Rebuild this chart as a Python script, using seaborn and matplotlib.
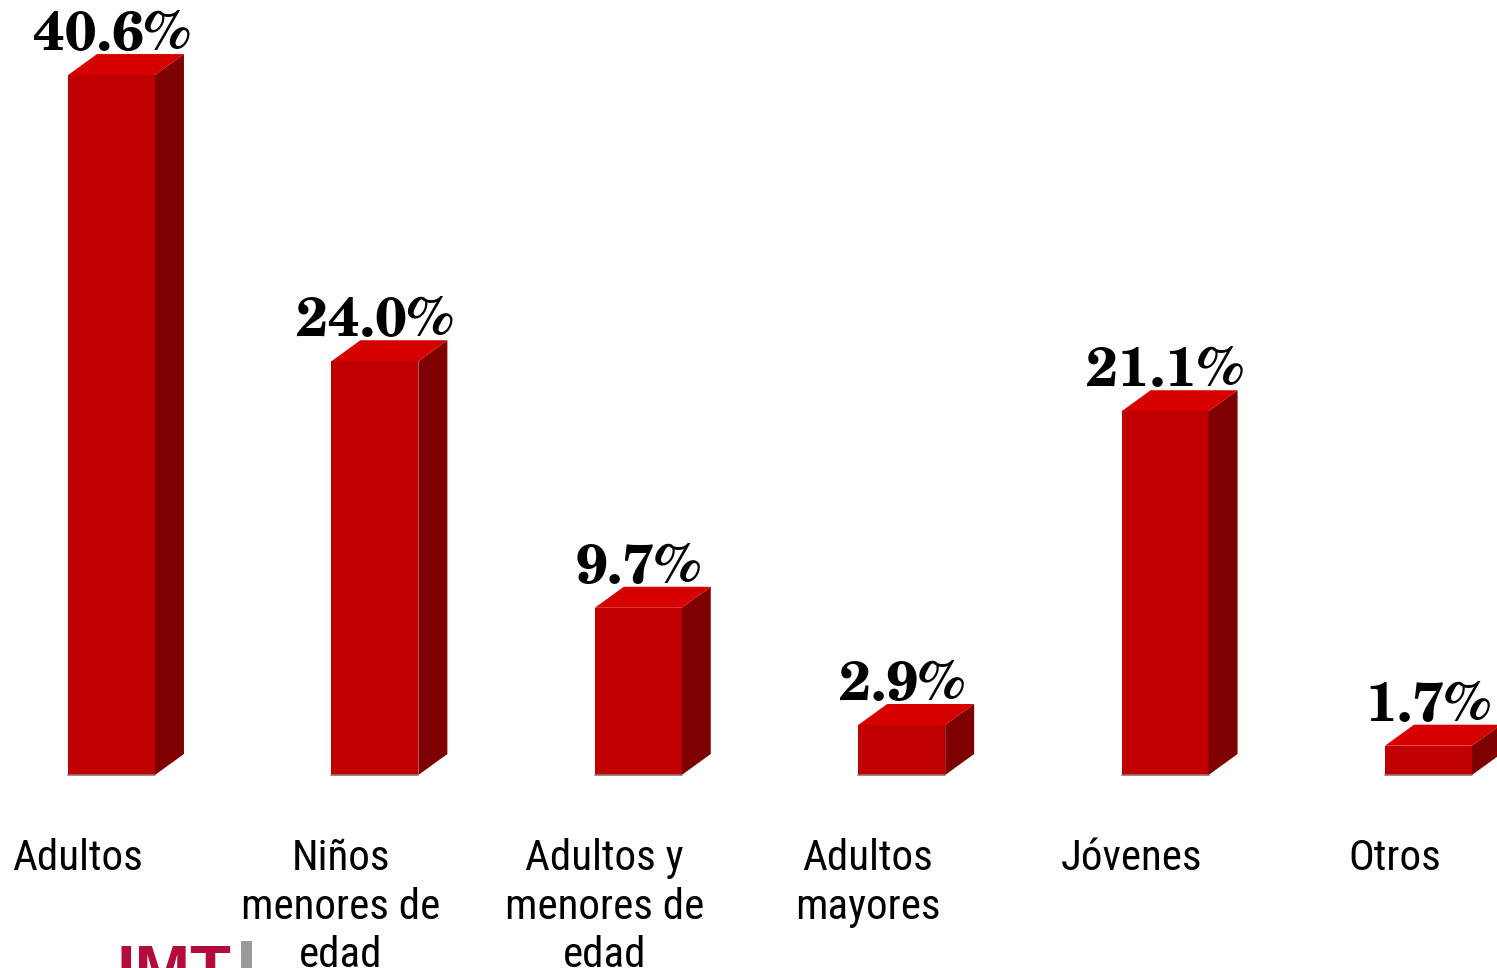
import matplotlib
matplotlib.use("Agg")
import matplotlib.pyplot as plt
from matplotlib.patches import Polygon, Rectangle
from matplotlib.transforms import ScaledTranslation
import seaborn as sns
import pandas as pd

categories = ["Adultos", "Niños\nmenores de\nedad", "Adultos y\nmenores de\nedad",
              "Adultos\nmayores", "Jóvenes", "Otros"]
values = [40.6, 24.0, 9.7, 2.9, 21.1, 1.7]
value_labels = ["40.6%", "24.0%", "9.7%", "2.9%", "21.1%", "1.7%"]

FRONT = "#C00000"
SIDE = "#7E0000"
TOP = "#D60000"

W, H, DPI = 1497, 968, 100
sns.set_theme(style="white")
plt.rcParams["font.family"] = ["Roboto Condensed", "DejaVu Sans"]

fig = plt.figure(figsize=(W / DPI, H / DPI), dpi=DPI)
ax = fig.add_axes([0, 0, 1, 1])

df = pd.DataFrame({"cat": categories, "val": values})
sns.barplot(data=df, x="cat", y="val", color=FRONT, width=0.33,
            saturation=1, ax=ax, zorder=2)

# pixel-based layout of the category axis
step_px = 263.4
x0_px = 111.5
px_per_unit_y = 17.24
base_px = H - 775
ax.set_xlim(-x0_px / step_px, (W - x0_px) / step_px)
ax.set_ylim(-base_px / px_per_unit_y, (H - base_px) / px_per_unit_y)
ax.axis("off")

# depth of the extruded bars, in data units
dx = 29 / step_px
dy = 21 / px_per_unit_y

for patch, lab in zip(ax.patches, value_labels):
    patch.set_edgecolor("none")
    x = patch.get_x()
    w = patch.get_width()
    h = patch.get_height()
    r = x + w
    side = Polygon([(r, 0), (r + dx, dy), (r + dx, h + dy), (r, h)],
                   closed=True, facecolor=SIDE, edgecolor="none", zorder=2)
    top = Polygon([(x, h), (x + dx, h + dy), (r + dx, h + dy), (r, h)],
                  closed=True, facecolor=TOP, edgecolor="none", zorder=2)
    ax.add_patch(side)
    ax.add_patch(top)
    ax.plot([x, r], [0, 0], color="#9a7070", lw=1.2, zorder=3)
    ax.text(x + w / 2, h + dy + 4 / px_per_unit_y, lab, ha="center", va="baseline",
            family=["TeX Gyre Schola", "Liberation Serif"], fontweight="bold",
            fontsize=40, color="black", zorder=4)

# category names under each bar
shift = ax.transData + ScaledTranslation(-34 / DPI, 0, fig.dpi_scale_trans)
label_y = -(838 - 775) / px_per_unit_y
for i, name in enumerate(categories):
    ax.text(i, label_y, name, ha="center", va="top", fontsize=31,
            linespacing=1.24, color="black", transform=shift)

# logo at the lower left
fig.text(117 / W, 1 - 944 / H, "IMT", ha="left", va="top",
         family="Liberation Sans", fontweight="bold", fontsize=48,
         color="#B30C3C")
fig.patches.append(Rectangle((241 / W, 0), 11 / W, 27 / H,
                             transform=fig.transFigure, facecolor="#9a9a9c",
                             edgecolor="none"))

fig.savefig("out.png", dpi=DPI)
